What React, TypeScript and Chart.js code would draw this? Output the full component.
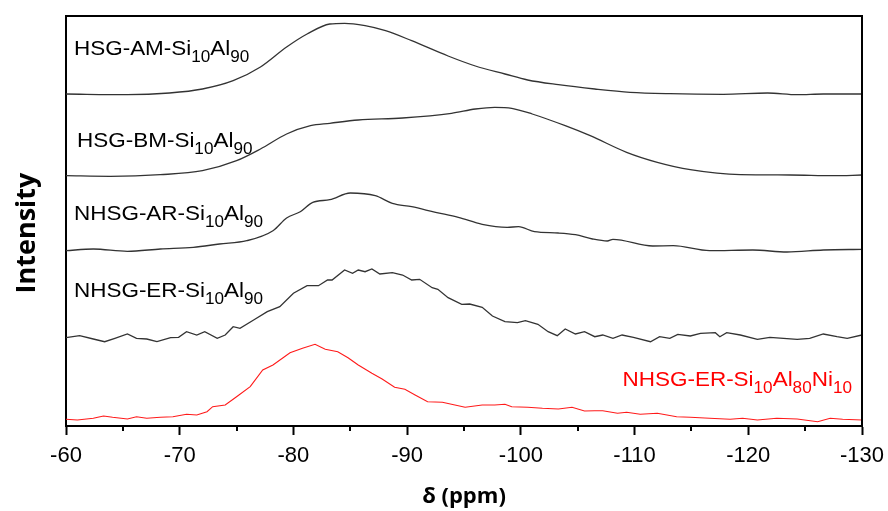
import React, { useEffect, useRef } from "react";
import { Chart, registerables } from "chart.js";

Chart.register(...registerables);

// ---------- data (δ in ppm, intensity in arbitrary stacked units) ----------
const hsgAmX = [-60, -65.4, -69.1, -72.0, -74.7, -77.1, -79.4, -81.2, -83.2, -84.5, -86.3, -88.1, -90.4, -93.6, -96.0, -98.6, -100.6, -103.3, -106.5, -109.6, -113.1, -117.8, -121.7, -124.3, -126.6, -130];
const hsgAmY = [332, 331.3, 333, 337, 345.3, 359, 379, 392, 402, 402.7, 400.3, 395.3, 385.3, 370, 360, 352, 346, 341.3, 337, 333.7, 332.3, 331.7, 333, 331.3, 332, 332];

const hsgBmX = [-60, -63.9, -68.3, -72.0, -75.0, -77.1, -79.4, -81.5, -83.2, -85.7, -89.6, -93.9, -96.0, -97.7, -99.2, -101.0, -103.9, -106.1, -109.3, -112.0, -114.9, -119.3, -123.7, -127.5, -130];
const hsgBmY = [250.3, 249.7, 251.3, 255.3, 265.3, 277, 292, 300.3, 302.7, 306, 308, 312.7, 317, 318.7, 317.7, 312, 300.3, 290.3, 273.7, 263.7, 256.3, 251.3, 251, 250.3, 251];

const nhsgArX = [-60, -62.4, -65.4, -68.3, -71.2, -73.5, -75.9, -78.2, -79.4, -80.6, -81.7, -83.2, -85.0, -87.2, -88.7, -90.4, -92.5, -94.5, -96.6, -98.8, -99.8, -101.2, -103.3, -104.8, -106.3, -107.6, -108.1, -111.6, -113.4, -116.6, -120.4, -123.4, -126.6, -130];
const nhsgArY = [175.3, 177, 174.7, 177, 178.7, 182, 185.3, 195.3, 208, 214.3, 223.7, 226.3, 233, 230.3, 222.7, 219.3, 213.7, 208.7, 201.7, 198.7, 199.3, 194.3, 193, 191.3, 187, 185, 186.7, 180, 180.3, 175.3, 176, 174, 176, 176.7];

const nhsgErX = [-60, -61.2, -62.4, -63.4, -64.3, -65.4, -66.2, -67.1, -68.0, -69.2, -69.9, -70.6, -71.5, -72.2, -73.3, -74.0, -74.7, -75.3, -76.5, -77.7, -78.8, -80.0, -81.2, -82.2, -83.0, -83.4, -84.5, -85.2, -85.7, -86.3, -86.9, -87.6, -88.7, -89.6, -90.4, -91.1, -92.2, -92.7, -93.6, -94.8, -95.5, -96.6, -97.5, -98.6, -99.7, -100.4, -101.5, -102.4, -103.2, -103.9, -104.8, -105.6, -106.5, -107.2, -108.1, -108.9, -109.9, -111.4, -112.2, -113.1, -113.8, -114.9, -115.8, -117.1, -117.5, -118.1, -119.3, -120.8, -121.9, -123.1, -124.3, -125.4, -126.6, -127.8, -128.7, -130];
const nhsgErY = [88.3, 90.3, 87, 84.3, 87.7, 92, 87.7, 87, 84.3, 88.3, 88.7, 94.3, 91, 94.3, 87.7, 91, 99.3, 97.7, 106, 114.3, 119.3, 132.7, 140.3, 140.3, 146, 146, 156, 152.7, 156, 154.3, 157, 152, 153.3, 151, 146, 146.7, 138.3, 136.7, 128.3, 121.7, 122, 118.7, 110, 104.3, 103.3, 105.3, 101.7, 94.3, 90.3, 97, 92, 94.3, 89.3, 91, 87.7, 91, 88.7, 84.3, 89.3, 87.7, 91.7, 90, 92.7, 93.3, 89.3, 93.3, 91, 86.7, 88.7, 87.7, 86.7, 87.7, 92, 89.3, 87.7, 91];

const nhsgNiX = [-60, -61.0, -62.4, -63.3, -64.1, -65.4, -66.2, -67.1, -68.3, -69.4, -70.6, -71.5, -72.4, -72.9, -74.0, -75.0, -76.2, -77.3, -78.2, -79.7, -80.8, -81.9, -82.8, -83.9, -84.8, -85.7, -86.9, -87.8, -88.9, -89.8, -90.7, -91.8, -93.1, -94.2, -95.1, -96.6, -97.7, -98.6, -99.2, -100.6, -101.9, -103.3, -104.5, -105.6, -106.5, -107.2, -108.5, -109.3, -110.5, -112.0, -113.7, -114.9, -116.6, -118.4, -119.5, -120.8, -122.5, -124.3, -126.1, -127.2, -128.3, -130];
const nhsgNiY = [6.7, 6, 7.7, 10, 8.7, 7, 9.3, 7.7, 8.7, 9.3, 11.7, 11, 14.3, 19.3, 21, 29.3, 39.3, 56, 61, 73.3, 77.7, 81.7, 76.7, 74.3, 68.3, 61, 52.7, 47, 38.7, 36.7, 31, 24.3, 23.7, 21, 18.7, 21, 21, 21.7, 19.3, 18.7, 17.7, 17, 18.7, 15, 15.3, 15.3, 12.7, 13.7, 11.7, 12.7, 9.3, 8.7, 7.7, 6.7, 7.7, 6, 7.7, 7, 4.3, 7.7, 6.7, 6];

const xTickValues = [-60, -70, -80, -90, -100, -110, -120, -130];
const xTickLabels = ["-60", "-70", "-80", "-90", "-100", "-110", "-120", "-130"];
const minorTickValues = [-65, -75, -85, -95, -105, -115, -125];

// sample names split into [text, isSubscript] parts
const nameAm: [string, boolean][] = [["HSG-AM-Si", false], ["10", true], ["Al", false], ["90", true]];
const nameBm: [string, boolean][] = [["HSG-BM-Si", false], ["10", true], ["Al", false], ["90", true]];
const nameAr: [string, boolean][] = [["NHSG-AR-Si", false], ["10", true], ["Al", false], ["90", true]];
const nameEr: [string, boolean][] = [["NHSG-ER-Si", false], ["10", true], ["Al", false], ["90", true]];
const nameNi: [string, boolean][] = [["NHSG-ER-Si", false], ["10", true], ["Al", false], ["80", true], ["Ni", false], ["10", true]];

// ---------- presentation ----------
const BLACK_LINE = "#333333";
const RED = "#ff1a1a";
const SANS = '"Liberation Sans", Arial, Helvetica, sans-serif';
const BOLD_SANS = '"Open Sans", "Liberation Sans", Arial, sans-serif';

const seriesDefs = [
  { xs: hsgAmX, ys: hsgAmY, color: BLACK_LINE, smooth: true },
  { xs: hsgBmX, ys: hsgBmY, color: BLACK_LINE, smooth: true },
  { xs: nhsgArX, ys: nhsgArY, color: BLACK_LINE, smooth: true },
  { xs: nhsgErX, ys: nhsgErY, color: BLACK_LINE, smooth: false },
  { xs: nhsgNiX, ys: nhsgNiY, color: RED, smooth: false },
];

// label anchors in data coordinates (left x in ppm, baseline in intensity units)
const labelDefs = [
  { parts: nameAm, x: -60.7, y: 371, color: "#000" },
  { parts: nameBm, x: -60.97, y: 279, color: "#000" },
  { parts: nameAr, x: -60.7, y: 206, color: "#000" },
  { parts: nameEr, x: -60.7, y: 129, color: "#000" },
  { parts: nameNi, x: -108.94, y: 40, color: "#ff0000" },
];

const overlayPlugin = {
  id: "overlay",
  afterDraw(chart: any) {
    const { ctx, chartArea: a, scales } = chart;
    const xs = scales.x;
    const ys = scales.y;
    ctx.save();
    // top & right frame
    ctx.strokeStyle = "#000";
    ctx.lineWidth = 2;
    ctx.beginPath();
    ctx.moveTo(a.left - 1, a.top);
    ctx.lineTo(a.right, a.top);
    ctx.lineTo(a.right, a.bottom);
    ctx.stroke();
    // minor ticks
    ctx.beginPath();
    for (const v of minorTickValues) {
      const px = Math.round(xs.getPixelForValue(v));
      ctx.moveTo(px, a.bottom);
      ctx.lineTo(px, a.bottom + 5);
    }
    ctx.stroke();
    // sample labels with subscripts
    for (const l of labelDefs) {
      const px = xs.getPixelForValue(l.x);
      const py = ys.getPixelForValue(l.y);
      ctx.save();
      ctx.translate(px, py);
      ctx.scale(1.07, 1);
      ctx.fillStyle = l.color;
      ctx.textAlign = "left";
      ctx.textBaseline = "alphabetic";
      let cx = 0;
      for (const [t, sub] of l.parts) {
        ctx.font = sub ? `16px ${SANS}` : `21px ${SANS}`;
        ctx.fillText(t, cx, sub ? 6.5 : 0);
        cx += ctx.measureText(t).width;
      }
      ctx.restore();
    }
    // y-axis title
    ctx.save();
    ctx.translate(35, 233);
    ctx.rotate(-Math.PI / 2);
    ctx.font = `bold 27px ${BOLD_SANS}`;
    ctx.fillStyle = "#000";
    ctx.textAlign = "center";
    ctx.textBaseline = "alphabetic";
    ctx.fillText("Intensity", 0, 0);
    ctx.restore();
    ctx.restore();
  },
};

export default function App() {
  const canvasRef = useRef<HTMLCanvasElement | null>(null);

  useEffect(() => {
    if (!canvasRef.current) return;
    const datasets = seriesDefs.map((s) => ({
      data: s.xs.map((x, i) => ({ x, y: s.ys[i] })),
      borderColor: s.color,
      borderWidth: s.color === RED ? 1.1 : 1.3,
      pointRadius: 0,
      fill: false,
      tension: s.smooth ? 0.4 : 0,
      cubicInterpolationMode: s.smooth ? ("monotone" as const) : ("default" as const),
    }));

    const chart = new Chart(canvasRef.current, {
      type: "line",
      data: { datasets },
      options: {
        animation: false,
        responsive: true,
        maintainAspectRatio: false,
        layout: { padding: { top: 16, right: 26, left: 0, bottom: 0 } },
        plugins: { legend: { display: false }, tooltip: { enabled: false } },
        scales: {
          x: {
            type: "linear",
            min: -130,
            max: -60,
            reverse: true,
            afterBuildTicks: (scale: any) => {
              scale.ticks = xTickValues.map((v) => ({ value: v }));
            },
            ticks: {
              color: "#000",
              font: { size: 22, family: SANS },
              padding: 8,
              maxRotation: 0,
              autoSkip: false,
              callback: (v: any) => {
                const i = xTickValues.indexOf(Number(v));
                return i >= 0 ? xTickLabels[i] : "";
              },
            },
            grid: {
              display: true,
              drawOnChartArea: false,
              drawTicks: true,
              tickLength: 9,
              tickWidth: 2,
              tickColor: "#000",
            },
            border: { display: true, color: "#000", width: 2 },
            title: {
              display: true,
              text: "δ (ppm)",
              color: "#000",
              font: { size: 22, weight: "bold", family: BOLD_SANS },
              padding: { top: 0, bottom: 1 },
            },
            afterFit: (scale: any) => {
              scale.height = 85;
              scale.paddingLeft = 0;
              scale.paddingRight = 0;
            },
          },
          y: {
            type: "linear",
            min: 0,
            max: 410,
            ticks: { display: false },
            grid: { display: false },
            border: { display: true, color: "#000", width: 2 },
            afterFit: (scale: any) => {
              scale.width = 66;
            },
          },
        },
      },
      plugins: [overlayPlugin],
    });
    return () => chart.destroy();
  }, []);

  return (
    <div style={{ position: "fixed", left: 0, top: 0, width: 888, height: 511, background: "#fff" }}>
      <canvas ref={canvasRef} />
    </div>
  );
}
